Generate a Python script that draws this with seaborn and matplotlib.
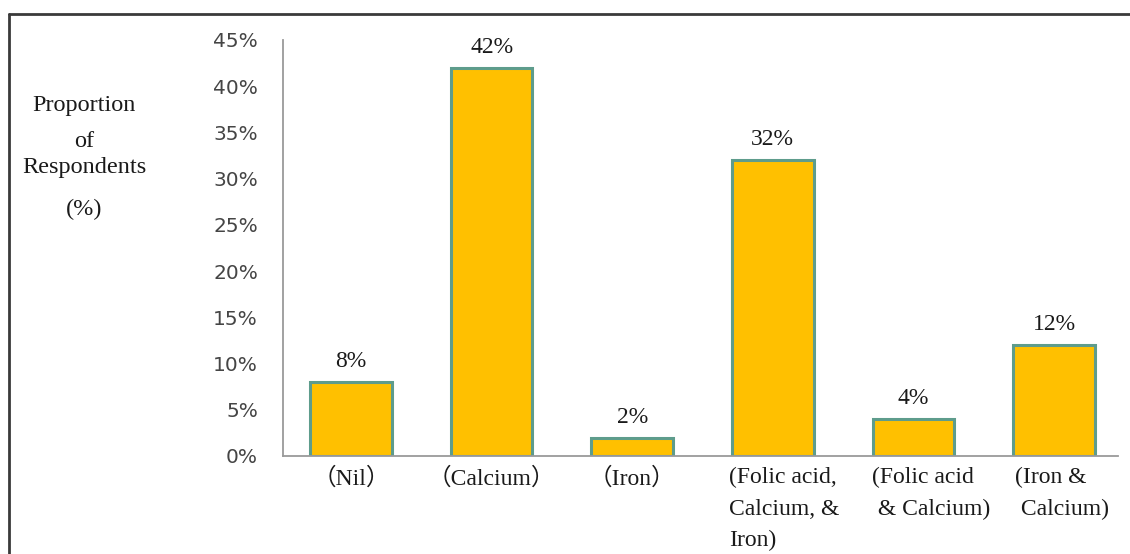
import matplotlib
matplotlib.use("Agg")
import matplotlib.pyplot as plt
from matplotlib.lines import Line2D
from matplotlib.ticker import FuncFormatter
from matplotlib.transforms import ScaledTranslation
import seaborn as sns

# Supplement categories and share of respondents (%)
categories = [
    "（Nil）",
    "（Calcium）",
    "（Iron）",
    "(Folic acid,\nCalcium, &\nIron)",
    "(Folic acid\n & Calcium)",
    "(Iron &\n Calcium)",
]
values = [8, 42, 2, 32, 4, 12]
value_labels = ["8%", "42%", "2%", "32%", "4%", "12%"]
y_ticks = [0, 5, 10, 15, 20, 25, 30, 35, 40, 45]

sns.set_theme(style="white")
plt.rcParams["font.family"] = ["Liberation Serif", "Noto Sans CJK SC", "DejaVu Sans"]

fig = plt.figure(figsize=(11.30, 5.54), dpi=100)
fig.patch.set_facecolor("white")
ax = fig.add_axes([0.2504, 0.1769, 0.7390, 0.7509])

sns.barplot(
    x=categories, y=values, ax=ax,
    color="#FFC000", saturation=1, width=0.58,
    edgecolor="#5E9C8C", linewidth=2.2,
)

ax.set_xlim(-0.484, 5.455)
ax.set_ylim(0, 45)
ax.set_yticks(y_ticks)
ax.yaxis.set_major_formatter(FuncFormatter(lambda v, _: f"{v:.0f}%"))
ax.set_xlabel("")
ax.set_ylabel("")

for side in ("top", "right"):
    ax.spines[side].set_visible(False)
for side in ("left", "bottom"):
    ax.spines[side].set_color("#9A9A9A")
    ax.spines[side].set_linewidth(1.3)

ax.tick_params(axis="y", length=0, pad=18, labelsize=14.5, labelcolor="#454545")
for lab in ax.get_yticklabels():
    lab.set_family("DejaVu Sans")
ax.tick_params(axis="x", length=0, pad=8, labelsize=17, labelcolor="#1a1a1a")

# Multi-line category names start at the left edge of their bar
shift = {3: -0.44, 4: -0.41, 5: -0.39}
for i, lab in enumerate(ax.get_xticklabels()):
    lab.set_multialignment("left")
    lab.set_linespacing(1.65)
    if i in shift:
        lab.set_horizontalalignment("left")
        lab.set_transform(lab.get_transform()
                          + ScaledTranslation(shift[i], 0, fig.dpi_scale_trans))

ax.bar_label(ax.containers[0], labels=value_labels, padding=7,
             fontsize=17, color="#1a1a1a")

# Vertical axis title, one line at a time
for text, y in [("Proportion", 105), ("of", 141), ("Respondents", 168), ("(%)", 209)]:
    fig.text(84 / 1130, 1 - y / 554, text, ha="center", va="center",
             fontsize=17.5, color="#1a1a1a")

# Frame lines along the top and left edges
fig.add_artist(Line2D([9 / 1130, 1.0], [1 - 14 / 554, 1 - 14 / 554],
                      transform=fig.transFigure, color="#3a3a3a", linewidth=2))
fig.add_artist(Line2D([9 / 1130, 9 / 1130], [0.0, 1 - 14 / 554],
                      transform=fig.transFigure, color="#3a3a3a", linewidth=2))

fig.savefig("out.png", dpi=100, facecolor="white")
